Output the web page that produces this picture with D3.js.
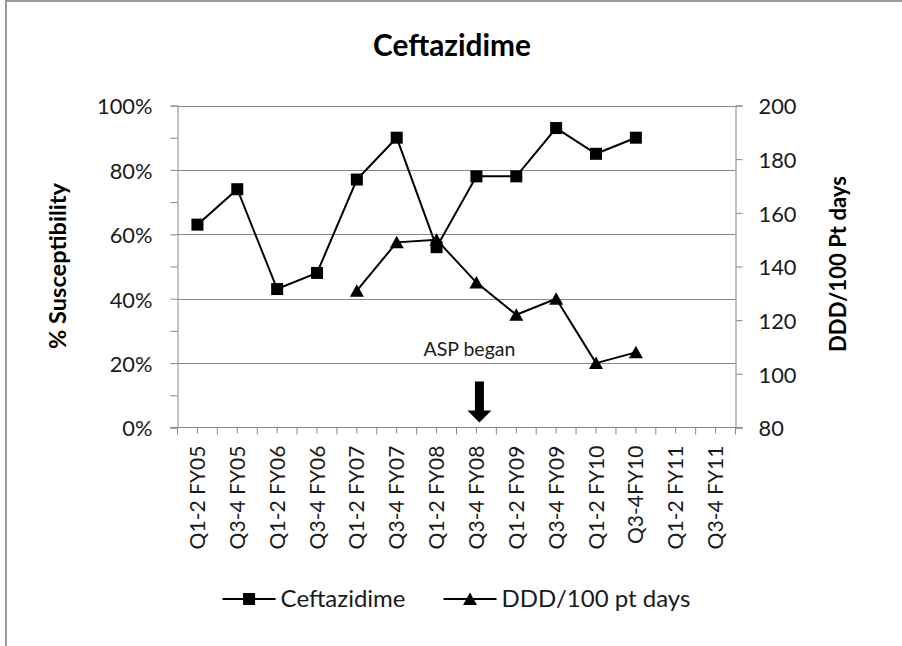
<!DOCTYPE html>
<html><head><meta charset="utf-8">
<script src="https://cdn.jsdelivr.net/npm/d3@7"></script>
<style>body{margin:0;background:#fff} svg{display:block}</style>
</head><body>
<svg id="chart" width="902" height="646"></svg>
<script>
// ---- data ----
const categories = ["Q1-2 FY05","Q3-4 FY05","Q1-2 FY06","Q3-4 FY06","Q1-2 FY07","Q3-4 FY07","Q1-2 FY08","Q3-4 FY08","Q1-2 FY09","Q3-4 FY09","Q1-2 FY10","Q3-4FY10","Q1-2 FY11","Q3-4 FY11"];
const ceftazidime = [0.63,0.74,0.43,0.48,0.77,0.90,0.56,0.78,0.78,0.93,0.85,0.90,null,null];
const dddPer100 = [null,null,null,null,131,149,150,134,122,128,104,108,null,null];
const leftTicks = [0,0.2,0.4,0.6,0.8,1.0];
const leftMinorTicks = [0.1,0.3,0.5,0.7,0.9];
const rightTicks = [80,100,120,140,160,180,200];
const seriesNames = ["Ceftazidime","DDD/100 pt days"];
const chartTitle = "Ceftazidime";
const leftTitle = "% Susceptibility";
const rightTitle = "DDD/100 Pt days";
const annotation = "ASP began";
const annotationCategory = "Q3-4 FY08";

// ---- layout ----
const FONT = "Lato, 'Open Sans', sans-serif";
const svg = d3.select("#chart");
const L = 177.5, R = 735.5, T = 105.5, B = 427.5;
const GRID = "#878787";

function fit(text, weight, target) {
  const t = svg.append("text").style("font-family", FONT).style("font-weight", weight)
    .style("font-size", "100px").text(text);
  const w = t.node().getComputedTextLength();
  t.remove();
  return 100 * target / w;
}
const tickFs = fit("200", 400, 38);
const xFs = fit("Q1-2 FY05", 400, 104);
const legFs = fit("Ceftazidime", 400, 125);
const titleFs = fit(chartTitle, 700, 158);
const lTitleFs = fit(leftTitle, 700, 166);
const rTitleFs = fit(rightTitle, 700, 176);
const annFs = fit(annotation, 400, 92);

// frame
svg.append("line").attr("x1", 6).attr("x2", 6).attr("y1", 0).attr("y2", 646).attr("stroke", "#999").attr("stroke-width", 2);
svg.append("line").attr("x1", 5).attr("x2", 902).attr("y1", 1).attr("y2", 1).attr("stroke", "#999").attr("stroke-width", 2);

const x = d3.scaleBand().domain(categories).range([L, R]);
const cx = c => x(c) + x.bandwidth() / 2;
const yL = d3.scaleLinear().domain([0, 1]).range([B, T]);
const yR = d3.scaleLinear().domain([80, 200]).range([B, T]);

// gridlines
svg.append("g").selectAll("line").data(leftTicks.filter(d => d > 0)).join("line")
  .attr("x1", L).attr("x2", R).attr("y1", d => Math.round(yL(d)) + 0.5).attr("y2", d => Math.round(yL(d)) + 0.5)
  .attr("stroke", GRID).attr("stroke-width", 1);

// left axis
const gL = svg.append("g").attr("transform", `translate(${L},0)`)
  .call(d3.axisLeft(yL).tickValues(leftTicks).tickSize(7).tickPadding(18).tickFormat(d3.format(".0%")));
svg.append("g").attr("transform", `translate(${L},0)`)
  .call(d3.axisLeft(yL).tickValues(leftMinorTicks).tickSize(7).tickFormat(""))
  .call(g => g.select(".domain").remove());
// right axis
const gR = svg.append("g").attr("transform", `translate(${R},0)`)
  .call(d3.axisRight(yR).tickValues(rightTicks).tickSize(7).tickPadding(16));
[gL, gR].forEach(g => {
  g.selectAll("text").style("font-family", FONT).style("font-size", tickFs + "px").attr("fill", "#1a1a1a").attr("dy", "0.38em");
});
svg.selectAll(".domain").attr("stroke", GRID);
svg.selectAll(".tick line").attr("stroke", GRID);

// bottom axis
const gB = svg.append("g");
gB.append("line").attr("x1", L - 7).attr("x2", R + 7).attr("y1", B).attr("y2", B).attr("stroke", GRID);
const bounds = categories.map(c => x(c)).concat([R]);
gB.selectAll("line.b").data(bounds).join("line").attr("class", "b")
  .attr("x1", d => d).attr("x2", d => d).attr("y1", B).attr("y2", B + 7).attr("stroke", GRID);
gB.selectAll("line.c").data(categories).join("line").attr("class", "c")
  .attr("x1", d => cx(d)).attr("x2", d => cx(d)).attr("y1", B).attr("y2", B + 6).attr("stroke", GRID);
gB.selectAll("text").data(categories).join("text")
  .attr("transform", d => `translate(${cx(d)},${B + 18}) rotate(-90)`)
  .attr("dy", "0.36em").attr("text-anchor", "end")
  .style("font-family", FONT).style("font-size", xFs + "px").attr("fill", "#1a1a1a")
  .text(d => d);

// series
const lineL = d3.line().defined(d => d[1] != null).x(d => cx(d[0])).y(d => yL(d[1]));
const lineR = d3.line().defined(d => d[1] != null).x(d => cx(d[0])).y(d => yR(d[1]));
const dL = categories.map((c, i) => [c, ceftazidime[i]]);
const dR = categories.map((c, i) => [c, dddPer100[i]]);
svg.append("path").attr("d", lineL(dL)).attr("fill", "none").attr("stroke", "#000").attr("stroke-width", 2);
svg.append("path").attr("d", lineR(dR)).attr("fill", "none").attr("stroke", "#000").attr("stroke-width", 2);
const SQ = 12;
svg.append("g").selectAll("rect").data(dL.filter(d => d[1] != null)).join("rect")
  .attr("x", d => cx(d[0]) - SQ / 2).attr("y", d => yL(d[1]) - SQ / 2).attr("width", SQ).attr("height", SQ).attr("fill", "#000");
const tri = (px, py) => `M${px},${py - 6.5}L${px + 7},${py + 6}L${px - 7},${py + 6}Z`;
svg.append("g").selectAll("path").data(dR.filter(d => d[1] != null)).join("path")
  .attr("d", d => tri(cx(d[0]), yR(d[1]))).attr("fill", "#000");

// annotation
const ax = cx(annotationCategory) + 3;
const aTip = B - 5, aTop = B - 46, aHead = B - 17;
svg.append("path").attr("d", `M${ax - 4.5},${aTop}L${ax + 4.5},${aTop}L${ax + 4.5},${aHead}L${ax + 12},${aHead}L${ax},${aTip}L${ax - 12},${aHead}L${ax - 4.5},${aHead}Z`).attr("fill", "#000");
svg.append("text").attr("x", ax - 10).attr("y", yL(0.2) - 7).attr("text-anchor", "middle")
  .style("font-family", FONT).style("font-size", annFs + "px").attr("fill", "#1a1a1a").text(annotation);

// titles
svg.append("text").attr("x", 452).attr("y", 56).attr("text-anchor", "middle")
  .style("font-family", FONT).style("font-weight", 700).style("font-size", titleFs + "px").text(chartTitle);
svg.append("text").attr("transform", `translate(66,266) rotate(-90)`).attr("text-anchor", "middle")
  .style("font-family", FONT).style("font-weight", 700).style("font-size", lTitleFs + "px").text(leftTitle);
svg.append("text").attr("transform", `translate(846,264) rotate(-90)`).attr("text-anchor", "middle")
  .style("font-family", FONT).style("font-weight", 700).style("font-size", rTitleFs + "px").text(rightTitle);

// legend
const legY = 599;
const lg = svg.append("g");
let xpos = 0;
seriesNames.forEach((name, i) => {
  const g = lg.append("g").attr("transform", `translate(${xpos},0)`);
  g.append("line").attr("x1", 0).attr("x2", 53).attr("y1", legY).attr("y2", legY).attr("stroke", "#000").attr("stroke-width", 2);
  if (i === 0) g.append("rect").attr("x", 26.5 - SQ / 2).attr("y", legY - SQ / 2).attr("width", SQ).attr("height", SQ);
  else g.append("path").attr("d", tri(26.5, legY));
  const t = g.append("text").attr("x", 58).attr("y", legY).attr("dy", "0.35em")
    .style("font-family", FONT).style("font-size", legFs + "px").attr("fill", "#1a1a1a").text(name);
  xpos += 58 + t.node().getComputedTextLength() + 38;
});
const totalW = xpos - 38;
lg.attr("transform", `translate(${(L + R) / 2 - totalW / 2},0)`);
</script>
</body></html>
